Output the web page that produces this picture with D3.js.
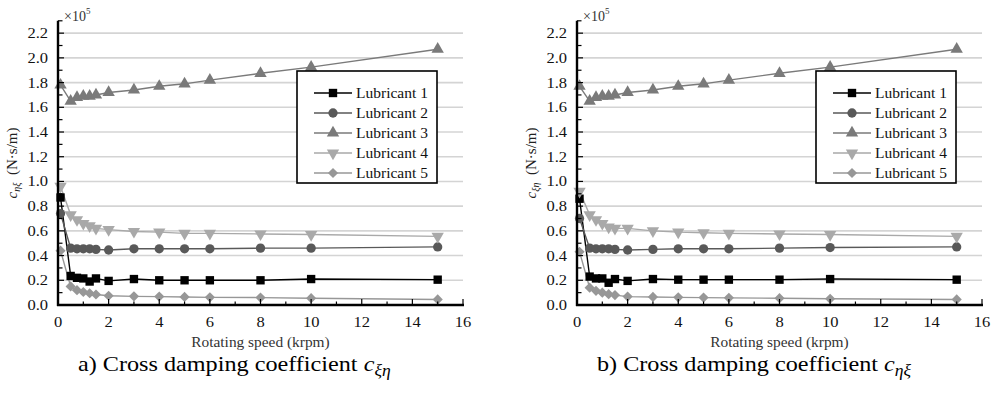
<!DOCTYPE html>
<html>
<head>
<meta charset="utf-8">
<script src="https://cdn.jsdelivr.net/npm/d3@7"></script>
<style>
  html, body { margin: 0; padding: 0; background: #fff; }
  svg { display: block; }
</style>
</head>
<body>
<svg id="chart" width="996" height="395"></svg>
<script>
// ---------------- data ----------------
const speeds = [0.1, 0.5, 0.75, 1, 1.25, 1.5, 2, 3, 4, 5, 6, 8, 10, 15];
const seriesNames = ["Lubricant 1", "Lubricant 2", "Lubricant 3", "Lubricant 4", "Lubricant 5"];

// panel a) c_xi_eta (×10^5 N·s/m)
const lub1A = [0.87, 0.235, 0.22, 0.215, 0.19, 0.215, 0.195, 0.21, 0.20, 0.20, 0.20, 0.20, 0.21, 0.205];
const lub2A = [0.74, 0.46, 0.455, 0.455, 0.455, 0.45, 0.445, 0.455, 0.455, 0.455, 0.455, 0.46, 0.46, 0.47];
const lub3A = [1.78, 1.65, 1.68, 1.69, 1.69, 1.70, 1.72, 1.74, 1.77, 1.79, 1.82, 1.875, 1.925, 2.07];
const lub4A = [0.96, 0.73, 0.69, 0.66, 0.64, 0.62, 0.61, 0.595, 0.59, 0.58, 0.58, 0.575, 0.57, 0.555];
const lub5A = [0.44, 0.15, 0.12, 0.105, 0.095, 0.085, 0.075, 0.07, 0.068, 0.065, 0.062, 0.06, 0.055, 0.045];

// panel b) c_eta_xi (×10^5 N·s/m)
const lub1B = [0.86, 0.23, 0.215, 0.215, 0.18, 0.21, 0.195, 0.21, 0.205, 0.205, 0.205, 0.205, 0.21, 0.205];
const lub2B = [0.70, 0.46, 0.455, 0.455, 0.455, 0.45, 0.445, 0.45, 0.455, 0.455, 0.455, 0.46, 0.465, 0.47];
const lub3B = [1.77, 1.65, 1.68, 1.69, 1.69, 1.70, 1.72, 1.74, 1.77, 1.79, 1.82, 1.875, 1.925, 2.07];
const lub4B = [0.92, 0.73, 0.69, 0.66, 0.63, 0.62, 0.62, 0.60, 0.59, 0.585, 0.58, 0.575, 0.57, 0.555];
const lub5B = [0.43, 0.14, 0.115, 0.10, 0.088, 0.08, 0.068, 0.065, 0.062, 0.06, 0.058, 0.055, 0.05, 0.045];

const xTicks = [0, 2, 4, 6, 8, 10, 12, 14, 16];
const yTicks = [0.0, 0.2, 0.4, 0.6, 0.8, 1.0, 1.2, 1.4, 1.6, 1.8, 2.0, 2.2];

// ---------------- styles ----------------
const FONT = "'Liberation Serif', 'Times New Roman', Times, serif";
const colors = ["#000000", "#595959", "#7a7a7a", "#a9a9a9", "#979797"];
const symbols = [
  { type: d3.symbolSquare, size: 70, rot: 0 },
  { type: d3.symbolCircle, size: 68, rot: 0 },
  { type: d3.symbolTriangle, size: 66, rot: 0 },
  { type: d3.symbolTriangle, size: 66, rot: 180 },
  { type: d3.symbolSquare, size: 52, rot: 45 }
];

const svg = d3.select("#chart");

function scaledText(g, x, y, str, size, sx, anchor, fill) {
  return g.append("text")
    .attr("transform", `translate(${x},${y}) scale(${sx},1)`)
    .attr("text-anchor", anchor || "start")
    .attr("font-family", FONT)
    .attr("font-size", size)
    .attr("fill", fill || "#000")
    .text(str);
}

function drawPanel(offsetX, data, yLabelSub, captionPrefix, captionSub) {
  const g = svg.append("g").attr("transform", `translate(${offsetX},0)`);
  const x = d3.scaleLinear().domain([0, 16]).range([58, 463]);
  const y = d3.scaleLinear().domain([0, 2.3]).range([305, 20.8]);

  // grid
  g.append("g").selectAll("line").data(yTicks.filter(d => d > 0)).join("line")
    .attr("x1", x(0)).attr("x2", x(16))
    .attr("y1", d => y(d)).attr("y2", d => y(d))
    .attr("stroke", "#d4d4d4").attr("stroke-width", 1.6);

  // series
  const line = d3.line().x((d, i) => x(speeds[i])).y(d => y(d));
  data.forEach((vals, si) => {
    g.append("path").datum(vals)
      .attr("d", line)
      .attr("fill", "none")
      .attr("stroke", colors[si])
      .attr("stroke-width", 1.4);
  });
  data.forEach((vals, si) => {
    const s = symbols[si];
    const sym = d3.symbol().type(s.type).size(s.size);
    g.append("g").selectAll("path").data(vals).join("path")
      .attr("d", sym)
      .attr("transform", (d, i) => `translate(${x(speeds[i])},${y(d)}) rotate(${s.rot})`)
      .attr("fill", colors[si]);
  });

  // x axis
  const axX = g.append("g").attr("transform", `translate(0,${y(0)})`);
  axX.append("line").attr("x1", x(0) - 1).attr("x2", x(16) + 1).attr("y1", 0).attr("y2", 0)
    .attr("stroke", "#000").attr("stroke-width", 2.4);
  axX.selectAll("line.tk").data(d3.range(0, 17, 1)).join("line").attr("class", "tk")
    .attr("x1", d => x(d)).attr("x2", d => x(d))
    .attr("y1", 0).attr("y2", d => d % 2 === 0 ? -6 : -3.5)
    .attr("stroke", "#000").attr("stroke-width", 1.2);
  xTicks.forEach(t => {
    scaledText(g, x(t), 327, String(t), 15, 1.1, "middle", "#111");
  });

  // y axis
  const axY = g.append("g");
  axY.append("line").attr("x1", x(0)).attr("x2", x(0)).attr("y1", y(0) + 1).attr("y2", y(2.3))
    .attr("stroke", "#000").attr("stroke-width", 2.4);
  axY.selectAll("line.tk").data(d3.range(0, 24, 1).map(d => d / 10)).join("line").attr("class", "tk")
    .attr("x1", x(0)).attr("x2", (d, i) => x(0) + (i % 2 === 0 ? 6 : 4.5))
    .attr("y1", d => y(d)).attr("y2", d => y(d))
    .attr("stroke", "#000").attr("stroke-width", 1.2);
  yTicks.forEach(t => {
    scaledText(g, 48, y(t) + 5, d3.format(".1f")(t), 15, 1.1, "end", "#111");
  });

  // multiplier
  const mul = g.append("text").attr("x", 64).attr("y", 21).attr("font-family", FONT)
    .attr("font-size", 14).attr("fill", "#333");
  mul.append("tspan").text("×10");
  mul.append("tspan").attr("font-size", 9).attr("dy", -7).text("5");

  // y label
  const yl = g.append("text").attr("transform", "translate(17,163) rotate(-90)")
    .attr("text-anchor", "middle").attr("font-family", FONT).attr("font-size", 15).attr("fill", "#222");
  yl.append("tspan").attr("font-style", "italic").text("c");
  yl.append("tspan").attr("font-style", "italic").attr("font-size", 10).attr("dy", 3).text(yLabelSub);
  yl.append("tspan").attr("dy", -3).text("\u2002(N·s/m)");

  // x label
  scaledText(g, 260.5, 347, "Rotating speed (krpm)", 14, 1.1, "middle", "#333");

  // legend
  const lg = g.append("g");
  lg.append("rect").attr("x", 297).attr("y", 71).attr("width", 140).attr("height", 112)
    .attr("fill", "#fff").attr("stroke", "#000").attr("stroke-width", 1.6);
  seriesNames.forEach((name, si) => {
    const ly = 93 + si * 20;
    lg.append("line").attr("x1", 314).attr("x2", 352).attr("y1", ly).attr("y2", ly)
      .attr("stroke", colors[si]).attr("stroke-width", 1.4);
    const s = symbols[si];
    lg.append("path").attr("d", d3.symbol().type(s.type).size(s.size))
      .attr("transform", `translate(333,${ly}) rotate(${s.rot})`)
      .attr("fill", colors[si]);
    lg.append("text").attr("x", 356).attr("y", ly + 5).attr("font-family", FONT)
      .attr("font-size", 15.5).attr("fill", "#111").text(name);
  });

  // caption
  const cap = g.append("text").attr("transform", "translate(78,371) scale(1.1,1)")
    .attr("font-family", FONT).attr("font-size", 22).attr("fill", "#000");
  cap.append("tspan").text(captionPrefix);
  cap.append("tspan").attr("font-style", "italic").text("c");
  cap.append("tspan").attr("font-style", "italic").attr("font-size", 16).attr("dy", 5).text(captionSub);
}

drawPanel(0, [lub1A, lub2A, lub3A, lub4A, lub5A], "ηξ", "a) Cross damping coefficient ", "ξη");
drawPanel(519, [lub1B, lub2B, lub3B, lub4B, lub5B], "ξη", "b) Cross damping coefficient ", "ηξ");
</script>
</body>
</html>
